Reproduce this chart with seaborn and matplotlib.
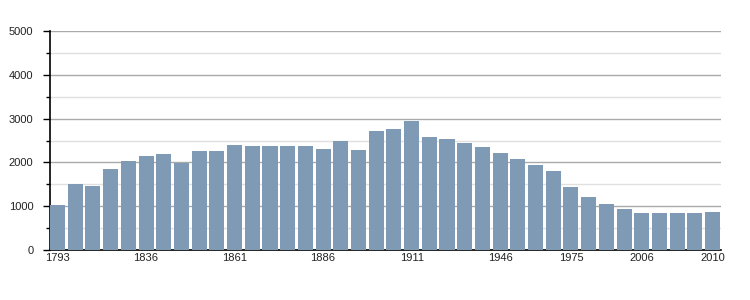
import matplotlib
matplotlib.use("Agg")
import matplotlib.pyplot as plt
from matplotlib.ticker import MultipleLocator
import seaborn as sns
import pandas as pd

years = ["1793", "1800", "1806", "1821", "1831", "1836", "1841", "1846", "1851", "1856",
         "1861", "1866", "1872", "1876", "1881", "1886", "1891", "1896", "1901", "1906",
         "1911", "1921", "1926", "1931", "1936", "1946", "1954", "1962", "1968", "1975",
         "1982", "1990", "1999", "2006", "2007", "2008", "2009", "2010"]
population = [1026, 1505, 1459, 1847, 2029, 2143, 2188, 1991, 2257, 2257,
              2394, 2371, 2371, 2371, 2371, 2302, 2485, 2280, 2713, 2758,
              2941, 2576, 2530, 2439, 2348, 2211, 2074, 1938, 1801, 1436,
              1208, 1049, 935, 843, 843, 843, 843, 866]
shown_labels = ["1793", "1836", "1861", "1886", "1911", "1946", "1975", "2006", "2010"]

sns.set_style("white")
plt.rcParams['font.family'] = ['Liberation Sans', 'DejaVu Sans']

df = pd.DataFrame({"year": years, "population": population})

fig = plt.figure(figsize=(7.5, 3.0), dpi=100)
ax = fig.add_axes([50 / 750, 1 - 250 / 300, 671 / 750, 219 / 300])

w = 0.85
sns.barplot(data=df, x="year", y="population", color="#7f9ab4", saturation=1,
            width=w, ax=ax, zorder=3, linewidth=0)

ax.set_ylim(0, 5000)
ax.set_xlim(-w / 2, len(years) - 1 + w / 2 + 0.05)
ax.yaxis.set_major_locator(MultipleLocator(1000))
ax.yaxis.set_minor_locator(MultipleLocator(500))
ax.grid(True, which="major", axis="y", color="#aaaaaa", linewidth=1, zorder=0)
ax.grid(True, which="minor", axis="y", color="#e0e0e0", linewidth=1, zorder=0)
ax.set_axisbelow(True)

ax.set_xticks(range(len(years)))
ax.set_xticklabels([y if y in shown_labels else "" for y in years])
ax.tick_params(axis="x", length=0, pad=2, labelsize=8, colors="#222222")
ax.tick_params(axis="y", which="major", length=5, width=1, color="black", pad=7,
               labelsize=8, labelcolor="#222222")
ax.tick_params(axis="y", which="minor", length=3, width=1, color="black")
ax.yaxis.set_ticks_position("left")

for s in ["top", "right"]:
    ax.spines[s].set_visible(False)
ax.spines["left"].set_color("black")
ax.spines["left"].set_linewidth(1.2)
ax.spines["bottom"].set_color("black")
ax.spines["bottom"].set_linewidth(1.2)
ax.set_xlabel("")
ax.set_ylabel("")

fig.savefig("out.png", dpi=100)
